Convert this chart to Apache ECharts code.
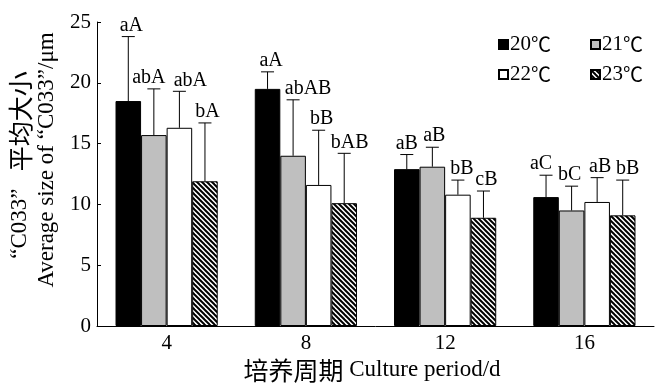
<!DOCTYPE html>
<html><head><meta charset="utf-8">
<script src="https://cdn.jsdelivr.net/npm/echarts@6/dist/echarts.min.js"></script>
<style>html,body{margin:0;padding:0;background:#fff}#c{width:659px;height:385px}</style>
</head><body><div id="c"></div>
<script>
const categories = ['4', '8', '12', '16'];
const seriesNames = ['20℃', '21℃', '22℃', '23℃'];
const mean20 = [18.5, 19.5, 12.9, 10.6];
const mean21 = [15.7, 14.0, 13.1, 9.5];
const mean22 = [16.3, 11.6, 10.8, 10.2];
const mean23 = [11.9, 10.1, 8.9, 9.1];
const sd20 = [5.3, 1.4, 1.2, 1.8];
const sd21 = [3.8, 4.6, 1.6, 2.0];
const sd22 = [3.0, 4.5, 1.2, 2.0];
const sd23 = [4.8, 4.1, 2.2, 2.9];
const letters20 = ['aA', 'aA', 'aB', 'aC'];
const letters21 = ['abA', 'abAB', 'aB', 'bC'];
const letters22 = ['abA', 'bB', 'bB', 'aB'];
const letters23 = ['bA', 'bAB', 'cB', 'bB'];
const yTicks = {min: 0, max: 25, interval: 5};
const yTitle1Latin = '“C033”';
const yTitle1Cjk = '平均大小';
const yTitle2 = 'Average size of “C033”/μm';
const xTitleCjk = '培养周期';
const xTitleLatin = 'Culture period/d';

const means = [mean20, mean21, mean22, mean23];
const sds = [sd20, sd21, sd22, sd23];
const letters = [letters20, letters21, letters22, letters23];

// style: horizontal nudges of the significance letters (px), as placed in the original figure
const letterNudge = [[3, 3.5, 0, -5], [-5, 15, 2, -2], [11, 3, 4, 3], [2.5, 5.5, 3, 5]];

const FONT = '"Liberation Serif", "Times New Roman", "Noto Sans CJK SC", serif';
const CJK = '"Noto Sans CJK SC", sans-serif';
const CAT_GAP = 0.266;

function hatch() {
  const p = 5, c = document.createElement('canvas');
  c.width = p; c.height = p;
  const g = c.getContext('2d');
  g.fillStyle = '#fff'; g.fillRect(0, 0, p, p);
  g.strokeStyle = '#000'; g.lineWidth = 2;
  for (let k = -1; k <= 1; k++) {
    g.beginPath(); g.moveTo(k * p - 1, -1); g.lineTo(k * p + p + 1, p + 1); g.stroke();
  }
  return c;
}
const fills = ['#000000', '#bfbfbf', '#ffffff', {image: hatch(), repeat: 'repeat'}];

const series = [];
seriesNames.forEach((name, si) => {
  series.push({
    name, type: 'bar', data: means[si],
    barGap: '0%', barCategoryGap: (CAT_GAP * 100) + '%',
    itemStyle: {color: fills[si], borderColor: '#000', borderWidth: 1},
    z: 2
  });
});
seriesNames.forEach((name, si) => {
  series.push({
    name: 'err' + si, type: 'custom', z: 5,
    data: means[si].map((m, i) => [i, m, m + sds[si][i]]),
    renderItem(params, api) {
      const idx = api.value(0);
      const x0 = api.coord([idx, 0])[0];
      const band = api.size([1, 0])[0];
      const bw = band * (1 - CAT_GAP) / 4;
      const cx = x0 + (si - 1.5) * bw;
      const yM = api.coord([idx, api.value(1)])[1];
      const yT = api.coord([idx, api.value(2)])[1];
      return {type: 'group', children: [
        {type: 'line', shape: {x1: cx, y1: yM, x2: cx, y2: yT}, style: {stroke: '#000', lineWidth: 1}},
        {type: 'line', shape: {x1: cx - 6.5, y1: yT, x2: cx + 6.5, y2: yT}, style: {stroke: '#000', lineWidth: 1}},
        {type: 'text', style: {text: letters[si][params.dataIndex], x: cx + letterNudge[si][params.dataIndex], y: yT - 1, align: 'center', verticalAlign: 'bottom', font: '20px ' + FONT, fill: '#000'}}
      ]};
    }
  });
});

const legendPos = [[498, 34], [590, 34], [498, 64], [590, 64]];
const legends = seriesNames.map((n, i) => ({
  data: [n], left: legendPos[i][0], top: legendPos[i][1], padding: 0,
  itemWidth: 9, itemHeight: 9, selectedMode: false, icon: 'rect',
  formatter: s => s.replace('℃', '{c|℃}'),
  textStyle: {fontFamily: FONT, fontSize: 21, color: '#000', padding: [0, 0, 0, -3],
    rich: {c: {fontFamily: CJK, fontSize: 20, color: '#000'}}}
}));

const richTitle = {
  l: {fontFamily: FONT, fontSize: 23, color: '#000'},
  k: {fontFamily: CJK, fontSize: 25, color: '#000'}
};

const chart = echarts.init(document.getElementById('c'), null, {renderer: 'canvas'});
chart.setOption({
  animation: false,
  backgroundColor: '#fff',
  grid: {left: 97, right: 5, top: 22, bottom: 59, containLabel: false},
  legend: legends,
  xAxis: {
    type: 'category', data: categories, boundaryGap: true,
    axisLine: {lineStyle: {color: '#000', width: 1}},
    axisTick: {inside: true, length: 4, lineStyle: {color: '#000'}},
    axisLabel: {fontFamily: FONT, fontSize: 21, color: '#000', margin: 7},
    splitLine: {show: false}
  },
  yAxis: {
    type: 'value', min: yTicks.min, max: yTicks.max, interval: yTicks.interval,
    axisLine: {show: true, lineStyle: {color: '#000', width: 1}},
    axisTick: {show: true, inside: true, length: 4, lineStyle: {color: '#000'}},
    axisLabel: {fontFamily: FONT, fontSize: 21, color: '#000', margin: 6},
    splitLine: {show: false}
  },
  graphic: [
    {type: 'text', x: 20, y: 165, rotation: Math.PI / 2, style: {text: '{l|' + yTitle1Latin + '}{l|   }{k|' + yTitle1Cjk + '}', rich: richTitle, align: 'center', verticalAlign: 'middle', fill: '#000'}},
    {type: 'text', x: 47, y: 160, rotation: Math.PI / 2, style: {text: yTitle2, align: 'center', verticalAlign: 'middle', font: '23px ' + FONT, fill: '#000'}},
    {type: 'text', x: 372, y: 370, style: {text: '{k|' + xTitleCjk + '}{l| ' + xTitleLatin + '}', rich: richTitle, align: 'center', verticalAlign: 'middle', fill: '#000'}}
  ],
  series
});
</script></body></html>
